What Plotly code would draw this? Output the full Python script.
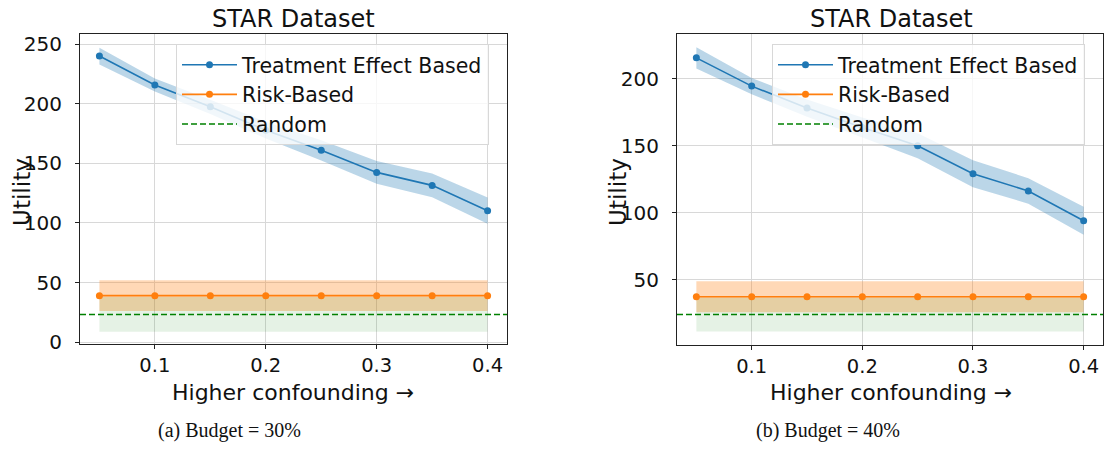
import plotly.graph_objects as go

# ---------------- data ----------------
confounding = [0.05, 0.10, 0.15, 0.20, 0.25, 0.30, 0.35, 0.40]

# Panel (a) Budget = 30%
a_te_mean = [240.0, 215.7, 197.4, 177.8, 160.9, 142.4, 131.5, 110.3]
a_te_std = [7.0, 5.5, 6.0, 7.0, 8.5, 9.5, 10.0, 11.0]
a_risk_mean = [39.0] * 8
a_risk_std = [13.0] * 8
a_random_mean = 23.2
a_random_std = 14.6

# Panel (b) Budget = 40%
b_te_mean = [215.7, 194.6, 178.2, 163.7, 150.1, 129.2, 116.4, 94.1]
b_te_std = [8.0, 6.0, 6.5, 7.5, 9.3, 10.0, 9.5, 10.5]
b_risk_mean = [37.4] * 8
b_risk_std = [11.5] * 8
b_random_mean = 24.1
b_random_std = 12.7

a_yticks = [0, 50, 100, 150, 200, 250]
b_yticks = [50, 100, 150, 200]
xticks = [0.1, 0.2, 0.3, 0.4]
xtick_labels = ["0.1", "0.2", "0.3", "0.4"]

titles = ["STAR Dataset", "STAR Dataset"]
captions = ["(a) Budget = 30%", "(b) Budget = 40%"]
series_names = ["Treatment Effect Based", "Risk-Based", "Random"]

BLUE = "#1f77b4"
ORANGE = "#ff7f0e"
GREEN = "green"
FONT = "DejaVu Sans"

W, H = 1107, 457

fig = go.Figure()


def band(xs, mean, std, color, xa, ya):
    upper = [m + s for m, s in zip(mean, std)]
    lower = [m - s for m, s in zip(mean, std)]
    fig.add_trace(go.Scatter(
        x=list(xs) + list(xs)[::-1], y=upper + lower[::-1],
        fill="toself", fillcolor=color, line=dict(width=0),
        mode="lines", hoverinfo="skip", showlegend=False,
        xaxis=xa, yaxis=ya))


def panel(idx, te_mean, te_std, risk_mean, risk_std, rnd_mean, rnd_std):
    xa = "x" if idx == 1 else "x2"
    ya = "y" if idx == 1 else "y2"
    leg = "legend" if idx == 1 else "legend2"
    band(confounding, te_mean, te_std, "rgba(31,119,180,0.3)", xa, ya)
    band(confounding, risk_mean, risk_std, "rgba(255,127,14,0.3)", xa, ya)
    band(confounding, [rnd_mean] * len(confounding), [rnd_std] * len(confounding),
         "rgba(0,128,0,0.1)", xa, ya)
    fig.add_trace(go.Scatter(
        x=confounding, y=te_mean, mode="lines+markers", name=series_names[0],
        line=dict(color=BLUE, width=1.6), marker=dict(color=BLUE, size=7),
        xaxis=xa, yaxis=ya, legend=leg, legendgroup=f"te{idx}", legendrank=1))
    fig.add_trace(go.Scatter(
        x=confounding, y=risk_mean, mode="lines+markers", name=series_names[1],
        line=dict(color=ORANGE, width=1.6), marker=dict(color=ORANGE, size=7),
        xaxis=xa, yaxis=ya, legend=leg, legendgroup=f"rk{idx}", legendrank=2))
    fig.add_shape(type="line", xref=f"{xa} domain", yref=ya,
                  x0=0, x1=1, y0=rnd_mean, y1=rnd_mean,
                  line=dict(color=GREEN, width=1.5, dash="6px,3px"),
                  showlegend=True, name=series_names[2], legend=leg,
                  legendgroup=f"rd{idx}", legendrank=3)


panel(1, a_te_mean, a_te_std, a_risk_mean, a_risk_std, a_random_mean, a_random_std)
panel(2, b_te_mean, b_te_std, b_risk_mean, b_risk_std, b_random_mean, b_random_std)


def px_x(p):
    return p / W


def px_y(p):
    return 1 - p / H


axis_common = dict(
    showline=True, mirror=True, linecolor="#222", linewidth=1.2,
    ticks="outside", ticklen=4, tickcolor="#222", tickwidth=1.2,
    showgrid=True, gridcolor="#d8d8d8", gridwidth=1, zeroline=False,
)
xtick_font = dict(family=FONT, size=19.5, color="#111")
ytick_font = dict(family=FONT, size=20, color="#111")

x_range = [0.0325, 0.4175]

legend_common = dict(
    xanchor="left", yanchor="top",
    bgcolor="rgba(255,255,255,0.8)", bordercolor="#d8d8d8", borderwidth=1,
    font=dict(family=FONT, size=20.5, color="#111"), itemwidth=55,
    tracegroupgap=0,
)

fig.update_layout(
    width=W, height=H, autosize=False,
    margin=dict(l=0, r=0, t=0, b=0),
    paper_bgcolor="white", plot_bgcolor="white",
    font=dict(family=FONT, color="#111"),
    xaxis=dict(domain=[px_x(80), px_x(507)], range=x_range, anchor="y",
               tickvals=xticks, ticktext=xtick_labels, ticklabelstandoff=0,
               tickfont=xtick_font, **axis_common),
    yaxis=dict(domain=[px_y(351), px_y(33)], range=[-1.4, 258.4], anchor="x",
               tickvals=a_yticks, ticklabelstandoff=9, tickfont=ytick_font, **axis_common),
    xaxis2=dict(domain=[px_x(677), px_x(1103)], range=x_range, anchor="y2",
                tickvals=xticks, ticktext=xtick_labels, ticklabelstandoff=0,
                tickfont=xtick_font, **axis_common),
    yaxis2=dict(domain=[px_y(352), px_y(33)], range=[1.6, 233.4], anchor="x2",
                tickvals=b_yticks, ticklabelstandoff=9, tickfont=ytick_font, **axis_common),
    legend=dict(x=px_x(176), y=px_y(43), **legend_common),
    legend2=dict(x=px_x(772), y=px_y(43), **legend_common),
)

annotations = []
for cx, title in zip([293, 891], titles):
    annotations.append(dict(x=px_x(cx), y=px_y(17), xref="paper", yref="paper",
                            text=title, showarrow=False, xanchor="center", yanchor="middle",
                            font=dict(family=FONT, size=24, color="#111")))
for cx in [293, 891]:
    annotations.append(dict(x=px_x(cx), y=px_y(401), xref="paper", yref="paper",
                            text="Higher confounding →", showarrow=False,
                            xanchor="center", yanchor="middle", borderpad=0,
                            font=dict(family=FONT, size=22, color="#111")))
for cx in [22, 618]:
    annotations.append(dict(x=px_x(cx), y=px_y(195), xref="paper", yref="paper",
                            text="Utility", showarrow=False, textangle=-90,
                            xanchor="center", yanchor="middle",
                            font=dict(family=FONT, size=23, color="#111")))
for cx, cap in zip([229, 828], captions):
    annotations.append(dict(x=px_x(cx), y=px_y(440), xref="paper", yref="paper",
                            text=cap, showarrow=False, xanchor="center", yanchor="middle",
                            font=dict(family="Liberation Serif", size=20, color="#111")))
fig.update_layout(annotations=annotations)

fig.write_html(
    "out.html", config={"displayModeBar": False, "responsive": False},
    post_script="document.body.style.margin='0';",
)
